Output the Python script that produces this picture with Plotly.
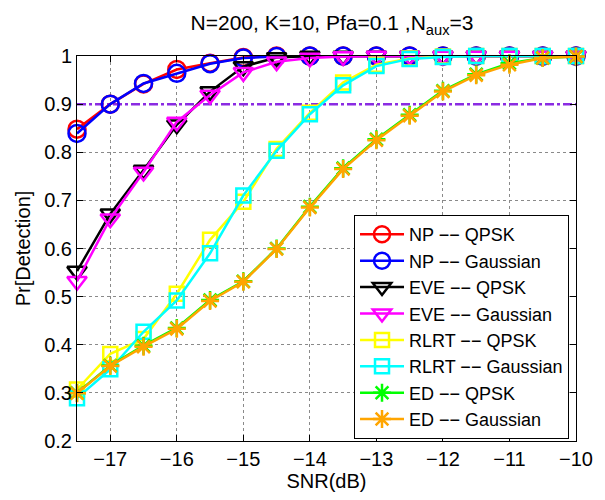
import plotly.graph_objects as go

snr = [-17.5, -17, -16.5, -16, -15.5, -15, -14.5, -14, -13.5, -13, -12.5, -12, -11.5, -11, -10.5, -10]

np_qpsk = [0.848, 0.900, 0.942, 0.972, 0.985, 0.997, 1.0, 1.0, 1.0, 1.0, 1.0, 1.0, 1.0, 1.0, 1.0, 1.0]
np_gauss = [0.839, 0.900, 0.943, 0.964, 0.984, 0.996, 0.999, 1.0, 1.0, 1.0, 1.0, 1.0, 1.0, 1.0, 1.0, 1.0]
eve_qpsk = [0.553, 0.672, 0.763, 0.857, 0.926, 0.978, 0.997, 1.0, 1.0, 1.0, 1.0, 1.0, 1.0, 1.0, 1.0, 1.0]
eve_gauss = [0.532, 0.662, 0.759, 0.863, 0.919, 0.966, 0.988, 0.996, 0.999, 1.0, 1.0, 1.0, 1.0, 1.0, 1.0, 1.0]
rlrt_qpsk = [0.307, 0.381, 0.412, 0.506, 0.618, 0.697, 0.807, 0.882, 0.945, 0.982, 0.995, 0.999, 1.0, 1.0, 1.0, 1.0]
rlrt_gauss = [0.289, 0.349, 0.427, 0.492, 0.590, 0.710, 0.803, 0.879, 0.939, 0.979, 0.994, 0.998, 1.0, 1.0, 1.0, 1.0]
ed_qpsk = [0.300, 0.357, 0.398, 0.435, 0.493, 0.532, 0.600, 0.687, 0.767, 0.827, 0.878, 0.928, 0.962, 0.985, 0.996, 0.999]
ed_gauss = [0.299, 0.356, 0.396, 0.433, 0.491, 0.531, 0.599, 0.685, 0.765, 0.825, 0.876, 0.926, 0.960, 0.982, 0.996, 0.999]

threshold = 0.9
names = ["NP \u2212\u2212 QPSK", "NP \u2212\u2212 Gaussian", "EVE \u2212\u2212 QPSK", "EVE \u2212\u2212 Gaussian",
         "RLRT \u2212\u2212 QPSK", "RLRT \u2212\u2212 Gaussian", "ED \u2212\u2212 QPSK", "ED \u2212\u2212 Gaussian"]
series = [np_qpsk, np_gauss, eve_qpsk, eve_gauss, rlrt_qpsk, rlrt_gauss, ed_qpsk, ed_gauss]
colors = ["#ff0000", "#0000ff", "#000000", "#ff00ff", "#ffff00", "#00ffff", "#00ff00", "#ffa500"]
symbols = ["circle-open", "circle-open", "triangle-down-open", "triangle-down-open",
           "square-open", "square-open", "asterisk-open", "asterisk-open"]
sizes = [17, 17, 17, 17, 14, 14, 15, 15]

FONT = "Liberation Sans, Arial, sans-serif"

fig = go.Figure()
fig.add_trace(go.Scatter(x=[snr[0], snr[-1]], y=[threshold, threshold], mode="lines",
                         line=dict(color="#8a2be2", width=2.5, dash="dashdot"),
                         showlegend=False, hoverinfo="skip", cliponaxis=False))
for name, ys, c, s, sz in zip(names, series, colors, symbols, sizes):
    fig.add_trace(go.Scatter(
        x=snr, y=ys, mode="lines+markers", name=name, cliponaxis=False,
        line=dict(color=c, width=2.5),
        marker=dict(symbol=s, size=sz, color=c, line=dict(color=c, width=2.5)),
    ))

axis_common = dict(
    showline=True, linecolor="black", linewidth=1, mirror="allticks",
    ticks="inside", ticklen=6, tickcolor="black",
    showgrid=True, gridcolor="#8a8a8a", griddash="dot", gridwidth=1,
    zeroline=False,
    tickfont=dict(size=20, color="black", family=FONT),
)

fig.update_xaxes(range=[-17.5, -10], tickmode="array", tickvals=[-17, -16, -15, -14, -13, -12, -11, -10],
                 ticktext=["\u221217", "\u221216", "\u221215", "\u221214", "\u221213", "\u221212", "\u221211", "\u221210"],
                 title=dict(text="SNR(dB)", font=dict(size=20, color="black", family=FONT), standoff=4),
                 **axis_common)
fig.update_yaxes(range=[0.2, 1.0], tickmode="array", tickvals=[0.2, 0.3, 0.4, 0.5, 0.6, 0.7, 0.8, 0.9, 1.0],
                 ticktext=["0.2", "0.3", "0.4", "0.5", "0.6", "0.7", "0.8", "0.9", "1"],
                 title=dict(text="Pr[Detection]", font=dict(size=20, color="black", family=FONT), standoff=8),
                 **axis_common)

fig.update_layout(
    width=605, height=500,
    margin=dict(l=77, r=18, t=56, b=51),
    plot_bgcolor="white", paper_bgcolor="white",
    font=dict(family=FONT, color="black", size=20),
    title=dict(text="N=200, K=10, Pfa=0.1 ,N<sub>aux</sub>=3", x=(77 + 255) / 605, xanchor="center",
               y=1 - 23 / 500, yanchor="middle", yref="container",
               font=dict(size=21, color="black", family=FONT)),
    legend=dict(x=0.986, xanchor="right", y=0.005, yanchor="bottom",
                bgcolor="white", bordercolor="black", borderwidth=1,
                font=dict(size=18, color="black", family=FONT),
                tracegroupgap=0, itemwidth=44),
    showlegend=True,
)

fig.write_html("out.html")
